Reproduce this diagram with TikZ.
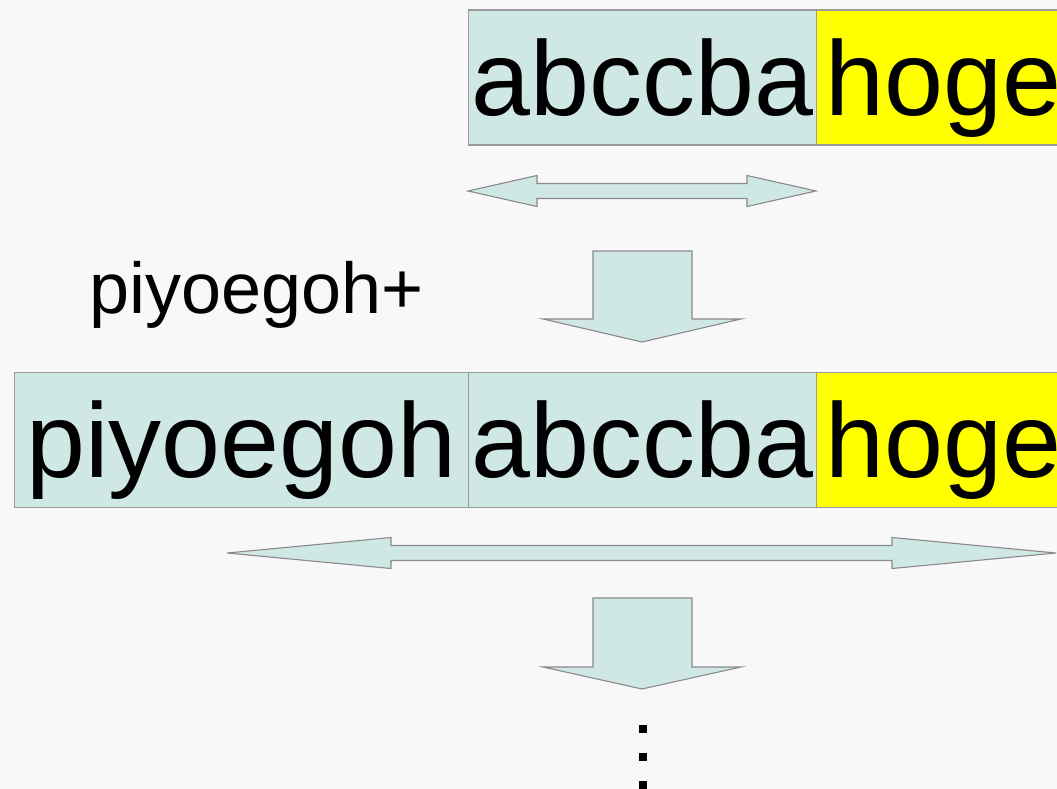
\documentclass[tikz,border=0pt]{standalone}
\usepackage{fontspec}
\setmainfont{Liberation Sans}
\definecolor{boxfill}{HTML}{CFE7E5}
\definecolor{boxline}{HTML}{9A9A9A}
\definecolor{arrline}{HTML}{8A8A8A}
\definecolor{bg}{HTML}{F8F8F8}
\definecolor{hogeyellow}{HTML}{FFFF00}
\begin{document}
\begin{tikzpicture}[x=1pt,y=-1pt,
  cell/.style={draw=boxline, line width=1.3pt, inner sep=0pt, minimum height=135pt,
    text height=105pt, text depth=30pt, font=\fontsize{106}{120}\selectfont, anchor=north west},
  blockarrow/.style={draw=arrline, line width=1.1pt, fill=boxfill, line join=miter},
  dotsq/.style={fill=black}
]
\useasboundingbox (0,0) rectangle (1057,789);
\clip (0,0) rectangle (1057,789);
\fill[bg] (0,0) rectangle (1057,789);

% top row
\node[cell, fill=boxfill, minimum width=348pt] (t1) at (468,9.5) {abccba};
\node[cell, fill=hogeyellow, minimum width=254pt] (t2) at (816,9.5) {hoge\hspace{16pt}};

% first double arrow
\draw[blockarrow] (468,191) -- (537,175.5) -- (537,183.5) -- (747,183.5) -- (747,175.5)
  -- (816,191) -- (747,206.5) -- (747,198.5) -- (537,198.5) -- (537,206.5) -- cycle;

% first down arrow
\draw[blockarrow] (593,251) -- (692,251) -- (692,319) -- (741,319) -- (642,342)
  -- (543,319) -- (593,319) -- cycle;

% label
\node[font=\fontsize{72}{80}\selectfont, anchor=base west, inner sep=0pt] (lab) at (89,313) {piyoegoh+};

% second row
\node[cell, fill=boxfill, minimum width=454pt] (p2) at (14,372) {piyoegoh};
\node[cell, fill=boxfill, minimum width=348pt] (a2) at (468,372) {abccba};
\node[cell, fill=hogeyellow, minimum width=254pt] (h2) at (816,372) {hoge\hspace{16pt}};

% second double arrow
\draw[blockarrow] (227,553) -- (391,537.5) -- (391,545.5) -- (892,545.5) -- (892,537.5)
  -- (1056,553) -- (892,568.5) -- (892,560.5) -- (391,560.5) -- (391,568.5) -- cycle;

% second down arrow
\draw[blockarrow] (593,598) -- (692,598) -- (692,667) -- (741,667) -- (642,689)
  -- (543,667) -- (593,667) -- cycle;

% vertical dots
\fill[dotsq] (639,725) rectangle (647,733);
\fill[dotsq] (639,753) rectangle (647,761);
\fill[dotsq] (639,781) rectangle (647,789);
\end{tikzpicture}
\end{document}
